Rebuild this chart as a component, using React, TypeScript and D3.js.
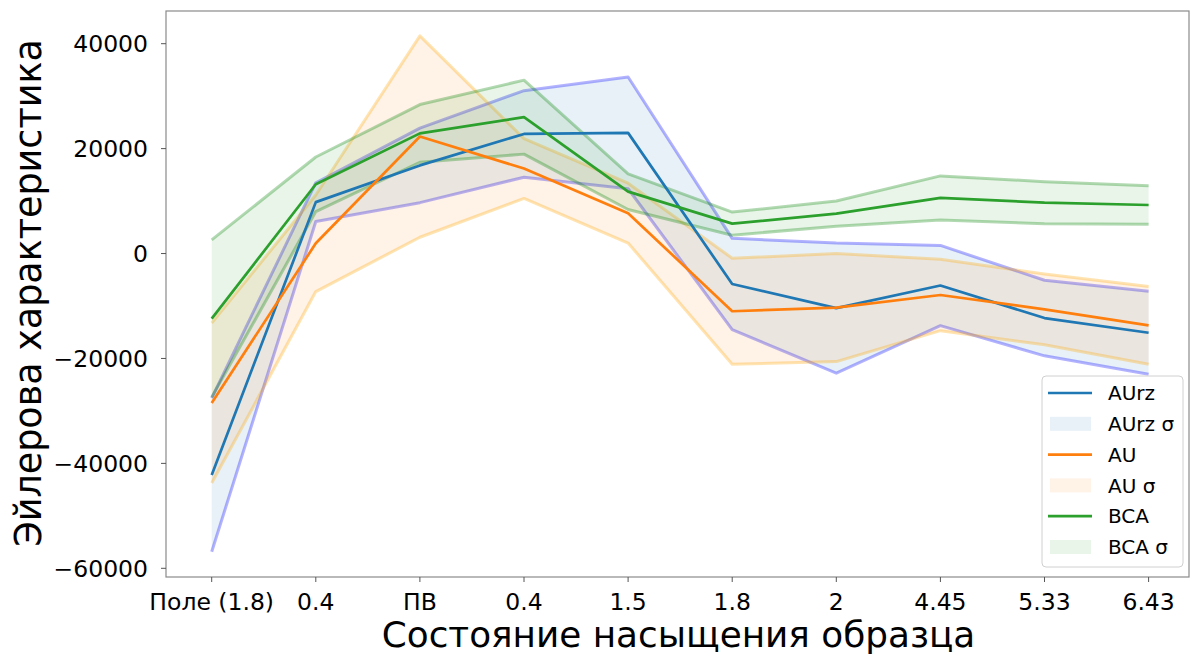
import React from "react";
import * as d3 from "d3";

// Saturation states along the x axis
const categories = ["Поле (1.8)", "0.4", "ПВ", "0.4", "1.5", "1.8", "2", "4.45", "5.33", "6.43"];

// Mean Euler characteristic per state, and its standard deviation
const aurzMean = [-42200, 9800, 16800, 22800, 23000, -5800, -10400, -6100, -12300, -15100];
const aurzSd = [14650, 3700, 7100, 8250, 10650, 8700, 12400, 7650, 7200, 7900];

const auMean = [-28500, 1950, 22300, 16200, 7700, -11000, -10300, -7900, -10650, -13700];
const auSd = [15250, 9200, 19200, 5700, 5700, 10100, 10300, 6800, 6750, 7400];

const bcaMean = [-12400, 13200, 22900, 26000, 11800, 5700, 7600, 10600, 9700, 9250];
const bcaSd = [15000, 5200, 5500, 7050, 3400, 2200, 2400, 4200, 4000, 3650];

const yTicks = [40000, 20000, 0, -20000, -40000, -60000];

const series = [
  { name: "AUrz", mean: aurzMean, sd: aurzSd, line: "#1f77b4", edge: "rgba(0,0,255,0.3)", fill: "rgba(31,119,180,0.1)" },
  { name: "AU", mean: auMean, sd: auSd, line: "#ff7f0e", edge: "rgba(255,165,0,0.3)", fill: "rgba(255,127,14,0.1)" },
  { name: "BCA", mean: bcaMean, sd: bcaSd, line: "#2ca02c", edge: "rgba(0,128,0,0.3)", fill: "rgba(44,160,44,0.1)" },
];

const W = 1198;
const H = 657;
const left = 166;
const right = 1189;
const top = 11;
const bottom = 577;
const font = "'DejaVu Sans', sans-serif";

export default function App() {
  const x = d3.scaleLinear().domain([-0.439, 9.388]).range([left, right]);
  const y = d3.scaleLinear().domain([-61658, 46233]).range([bottom, top]);

  const line = d3
    .line<number>()
    .x((_, i) => x(i))
    .y((v) => y(v));

  const fmt = (v: number) => (v < 0 ? "\u2212" + Math.abs(v) : String(v));

  const legendItems: { label: string; kind: "line" | "patch"; color: string }[] = [];
  series.forEach((s) => {
    legendItems.push({ label: s.name, kind: "line", color: s.line });
    legendItems.push({ label: s.name + " σ", kind: "patch", color: s.fill });
  });

  return (
    <svg
      width={W}
      height={H}
      style={{ position: "absolute", left: 0, top: 0, background: "#fff" }}
      fontFamily={font}
    >
      <defs>
        <clipPath id="plot-area">
          <rect x={left} y={top} width={right - left} height={bottom - top} />
        </clipPath>
      </defs>

      <g clipPath="url(#plot-area)">
        {series.map((s) => {
          const upper = s.mean.map((m, i) => m + s.sd[i]);
          const lower = s.mean.map((m, i) => m - s.sd[i]);
          const band = d3
            .area<number>()
            .x((_, i) => x(i))
            .y0((_, i) => y(lower[i]))
            .y1((_, i) => y(upper[i]));
          return (
            <g key={s.name}>
              <path d={band(s.mean) || ""} fill={s.fill} stroke="none" />
              <path d={line(upper) || ""} fill="none" stroke={s.edge} strokeWidth={3} strokeLinejoin="round" />
              <path d={line(lower) || ""} fill="none" stroke={s.edge} strokeWidth={3} strokeLinejoin="round" />
            </g>
          );
        })}
        {series.map((s) => (
          <path
            key={s.name + "-mean"}
            d={line(s.mean) || ""}
            fill="none"
            stroke={s.line}
            strokeWidth={2.7}
            strokeLinejoin="round"
          />
        ))}
      </g>

      {/* frame */}
      <rect x={left} y={top} width={right - left} height={bottom - top} fill="none" stroke="#8a8a8a" strokeWidth={1.2} />

      {/* y axis */}
      {yTicks.map((t) => (
        <g key={"y" + t}>
          <line x1={left - 5} x2={left} y1={y(t)} y2={y(t)} stroke="#555" strokeWidth={1} />
          <text x={left - 18} y={y(t)} dy="0.36em" textAnchor="end" fontSize={23.5} fill="#000">
            {fmt(t)}
          </text>
        </g>
      ))}

      {/* x axis */}
      {categories.map((c, i) => (
        <g key={"x" + i}>
          <line x1={x(i)} x2={x(i)} y1={bottom} y2={bottom + 5} stroke="#555" strokeWidth={1} />
          <text x={x(i)} y={bottom + 33} textAnchor="middle" fontSize={23.5} fill="#000">
            {c}
          </text>
        </g>
      ))}

      <text x={(left + right) / 2 + 1} y={647} textAnchor="middle" fontSize={35.8} fill="#000">
        Состояние насыщения образца
      </text>
      <text
        transform={`translate(41,${(top + bottom) / 2 - 1}) rotate(-90)`}
        textAnchor="middle"
        fontSize={36.5}
        fill="#000"
      >
        Эйлерова характеристика
      </text>

      {/* legend */}
      <g>
        <rect x={1042} y={376} width={141} height={191} rx={4} fill="rgba(255,255,255,0.8)" stroke="#d0d0d0" strokeWidth={1} />
        {legendItems.map((it, k) => {
          const cy = 393 + k * 30.8;
          return (
            <g key={it.label}>
              {it.kind === "line" ? (
                <line x1={1048} x2={1092} y1={cy} y2={cy} stroke={it.color} strokeWidth={2.7} />
              ) : (
                <rect x={1050} y={cy - 7} width={41} height={14} fill={it.color} />
              )}
              <text x={1108} y={cy} dy="0.36em" fontSize={20} fill="#000">
                {it.label}
              </text>
            </g>
          );
        })}
      </g>
    </svg>
  );
}
